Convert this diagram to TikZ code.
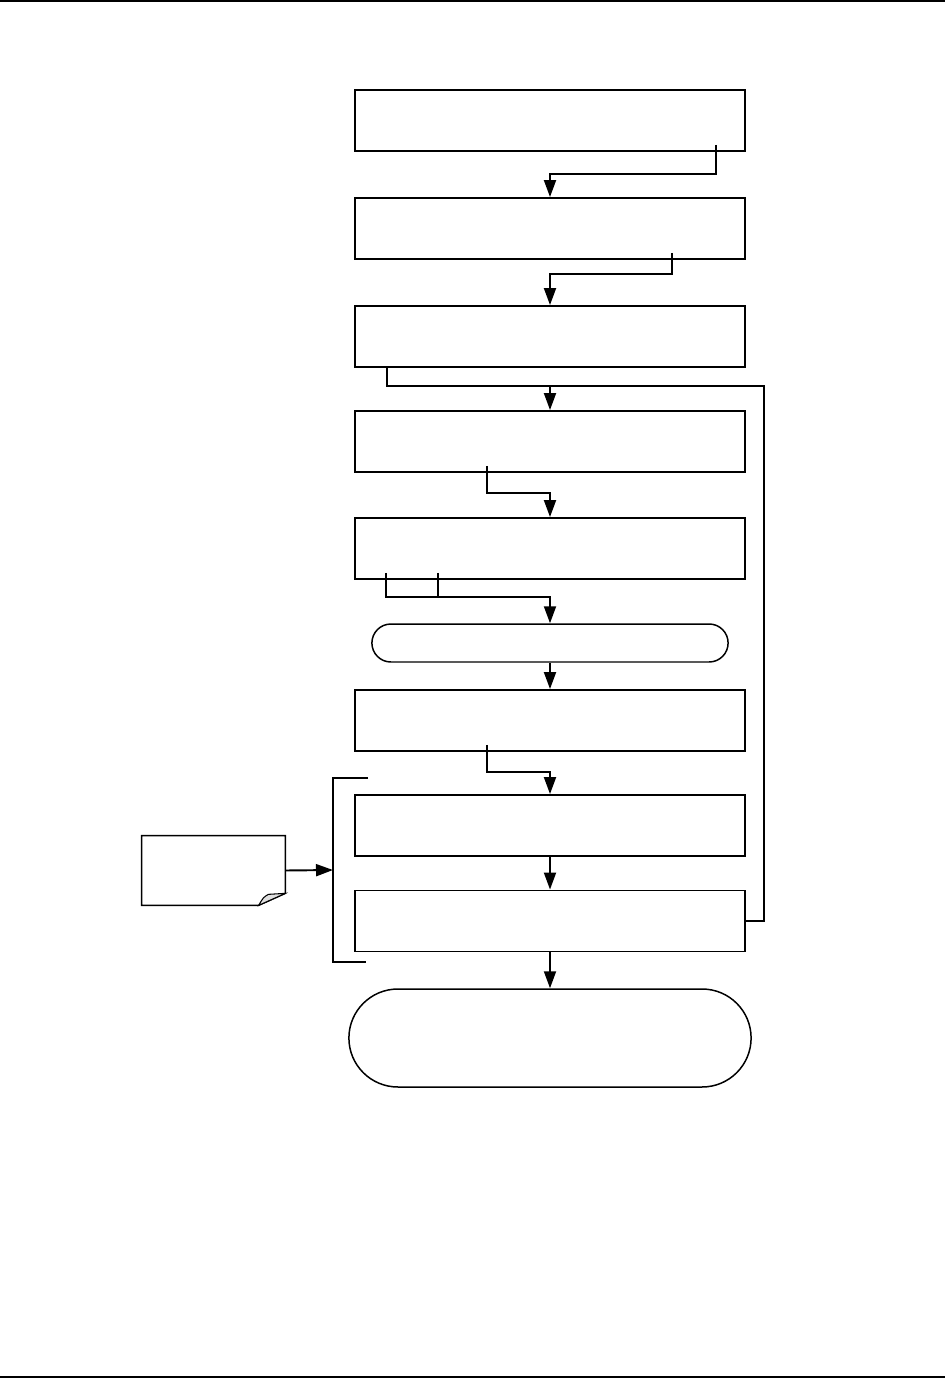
\documentclass[tikz,border=0pt]{standalone}
\usepackage{tikz}
\usetikzlibrary{arrows.meta, positioning, shapes.misc, calc}

\begin{document}
\begin{tikzpicture}[
  x=0.02cm, y=-0.02cm,
  box/.style={draw, line width=1.1pt, minimum width=7.8cm, minimum height=1.22cm},
  term/.style={draw, rounded rectangle, line width=0.85pt},
  notebox/.style={minimum width=2.86cm, minimum height=1.38cm},
  arr/.style={-{Triangle[length=0.34cm, width=0.24cm]}, line width=1.1pt},
  wire/.style={line width=1.1pt},
  pagerule/.style={line width=1.2pt},
]
\useasboundingbox (0,0) rectangle (945,1378);

% Page rules
\draw[pagerule] (0,1) -- (945,1);
\draw[pagerule] (0,1377) -- (945,1377);

% Main column
\node[box] (b1) at (550,120.5) {};
\node[box] (b2) at (550,228.5) {};
\node[box] (b3) at (550,336.5) {};
\node[box] (b4) at (550,441.5) {};
\node[box] (b5) at (550,548.5) {};
\node[term, minimum width=7.36cm, minimum height=0.76cm] (b6) at (550,643) {};
\node[box] (b7) at (550,720.5) {};
\node[box] (b8) at (550,825.5) {};
\node[box] (b9) at (550,921) {};
\node[term, minimum width=8.28cm, minimum height=1.96cm] (b10) at (550,1038) {};

% Note on the left
\node[notebox] (note) at (213.5,870.5) {};
\draw[line width=0.85pt] (note.north west) -- (note.north east) -- ($(note.south east)+(0,-12)$)
  -- ($(note.south west)+(117,0)$) -- (note.south west) -- cycle;
\filldraw[fill=gray!25, line width=0.6pt] ($(note.south west)+(117,0)$)
  .. controls ($(note.south east)+(-22,-8)$) .. ($(note.south east)+(-17,-11)$)
  -- ($(note.south east)+(0,-12)$) -- cycle;

% Bracket round the last two steps
\coordinate (brk) at (333,870);
\draw[wire] (368,778) -| (333,962) -- (366,962);
\draw[arr] (note.east) -- (brk);

% Connectors
\draw[arr] ($(b1.south)+(166,-7)$) -- ++(0,29) -| (b2.north);
\draw[arr] ($(b2.south)+(122,-7)$) -- ++(0,21) -| (b3.north);

\coordinate (j3) at (550,386);
\coordinate (loop) at (764,386);
\draw[wire] ($(b3.south)+(-163,0)$) |- (j3) -- (loop) |- (b9.east);
\draw[arr] (j3) -- (b4.north);

\draw[arr] ($(b4.south)+(-63,-7)$) -- ++(0,27) -| (b5.north);

\draw[wire] ($(b5.south)+(-112,-7)$) -- ++(0,24) coordinate (j5);
\draw[arr] ($(b5.south)+(-164,-7)$) |- (j5) -| (b6.north);

\draw[arr] (b6) -- (b7);
\draw[arr] ($(b7.south)+(-63,-7)$) -- ++(0,27) -| (b8.north);
\draw[arr] (b8) -- (b9);
\draw[arr] (b9) -- (b10);
\end{tikzpicture}
\end{document}
